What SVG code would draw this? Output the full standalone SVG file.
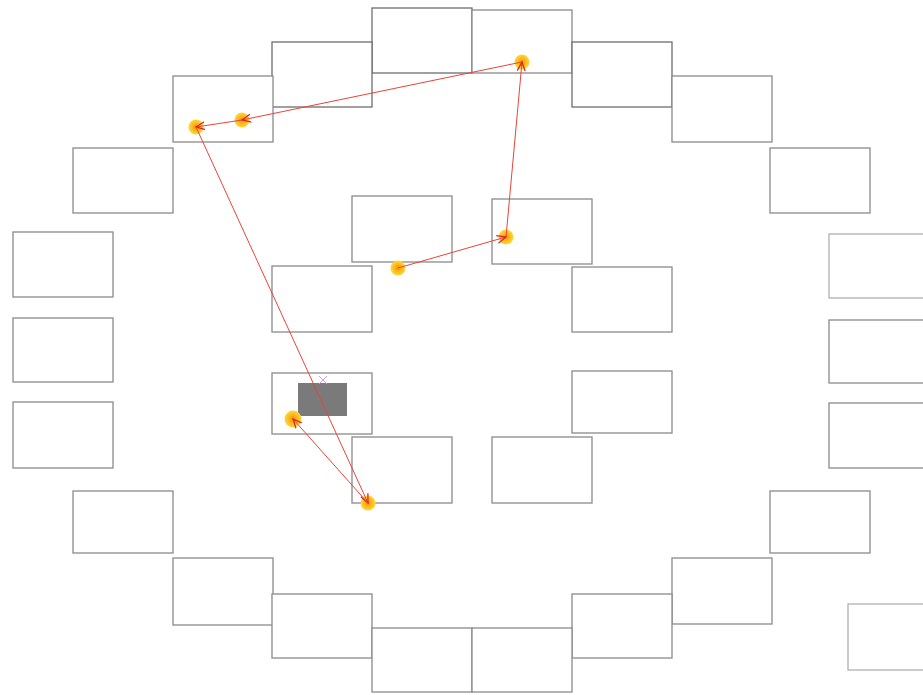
<svg xmlns="http://www.w3.org/2000/svg" width="923" height="695" viewBox="0 0 923 695">
<style>
.box{fill:#fff;stroke:#8a8a8a;stroke-width:1.3}
.dk{stroke:#6e6e6e}
.lt{stroke:#b0b0b0}
.edge{stroke:#e8443a;stroke-width:1;fill:none;marker-end:url(#arr)}
.dot{fill:url(#g)}
</style>
<defs>
<radialGradient id="g"><stop offset="0" stop-color="#f68a10"/><stop offset="0.45" stop-color="#fbb615"/><stop offset="1" stop-color="#ffd83a"/></radialGradient>
<marker id="arr" viewBox="0 0 10 10" refX="9" refY="5" markerWidth="10" markerHeight="10" orient="auto" markerUnits="userSpaceOnUse">
<path d="M0,1 L9,5 L0,9" fill="none" stroke="#d42a2a" stroke-width="1.3"/>
</marker>
</defs>
<rect width="923" height="695" fill="#fff"/>
<g id="nodes">
<g id="n1"><rect class="box dk" x="372" y="8" width="100" height="65"/></g>
<g id="n2"><rect class="box" x="472" y="10" width="100" height="63"/></g>
<g id="n3"><rect class="box dk" x="272" y="42" width="100" height="65"/></g>
<g id="n4"><rect class="box dk" x="572" y="42" width="100" height="65"/></g>
<g id="n5"><rect class="box" x="173" y="76" width="100" height="66"/></g>
<g id="n6"><rect class="box" x="672" y="76" width="100" height="66"/></g>
<g id="n7"><rect class="box" x="73" y="148" width="100" height="65"/></g>
<g id="n8"><rect class="box" x="770" y="148" width="100" height="65"/></g>
<g id="n9"><rect class="box" x="13" y="232" width="100" height="65"/></g>
<g id="n10"><rect class="box" x="13" y="318" width="100" height="64"/></g>
<g id="n11"><rect class="box" x="13" y="402" width="100" height="66"/></g>
<g id="n12"><rect class="box lt" x="829" y="234" width="100" height="64"/></g>
<g id="n13"><rect class="box" x="829" y="320" width="100" height="63"/></g>
<g id="n14"><rect class="box" x="829" y="403" width="100" height="65"/></g>
<g id="n15"><rect class="box" x="73" y="491" width="100" height="62"/></g>
<g id="n16"><rect class="box" x="770" y="491" width="100" height="62"/></g>
<g id="n17"><rect class="box" x="173" y="558" width="100" height="67"/></g>
<g id="n18"><rect class="box" x="672" y="558" width="100" height="66"/></g>
<g id="n19"><rect class="box" x="272" y="594" width="100" height="64"/></g>
<g id="n20"><rect class="box" x="572" y="594" width="100" height="64"/></g>
<g id="n21"><rect class="box" x="372" y="628" width="100" height="64"/></g>
<g id="n22"><rect class="box" x="472" y="628" width="100" height="64"/></g>
<g id="n23"><rect class="box lt" x="848" y="604" width="100" height="66"/></g>
<g id="n24"><rect class="box" x="352" y="196" width="100" height="66"/></g>
<g id="n25"><rect class="box" x="492" y="199" width="100" height="65"/></g>
<g id="n26"><rect class="box" x="272" y="266" width="100" height="66"/></g>
<g id="n27"><rect class="box" x="572" y="267" width="100" height="65"/></g>
<g id="n28"><rect class="box" x="272" y="373" width="100" height="61"/><rect x="298" y="383" width="49" height="33" fill="#7a7a7a"/></g>
<g id="n29"><rect class="box" x="572" y="371" width="100" height="62"/></g>
<g id="n30"><rect class="box" x="352" y="437" width="100" height="66"/></g>
<g id="n31"><rect class="box" x="492" y="437" width="100" height="66"/></g>
</g>
<g id="dots">
<circle class="dot" cx="398" cy="268" r="7.5"/>
<circle class="dot" cx="506" cy="237" r="7.5"/>
<circle class="dot" cx="522" cy="62" r="7.5"/>
<circle class="dot" cx="242" cy="120" r="7.5"/>
<circle class="dot" cx="196" cy="127" r="7.5"/>
<circle class="dot" cx="368" cy="503" r="7.5"/>
<circle class="dot" cx="293" cy="419" r="8.5"/>
</g>
<g id="connectors">
<line class="edge" x1="398" y1="268" x2="506" y2="237"/>
<line class="edge" x1="506" y1="237" x2="522" y2="62"/>
<line class="edge" x1="522" y1="62" x2="242" y2="120"/>
<line class="edge" x1="242" y1="120" x2="196" y2="127"/>
<line class="edge" x1="196" y1="127" x2="368" y2="503"/>
<line class="edge" x1="368" y1="503" x2="293" y2="419"/>
<path d="M319,376 L327,384 M327,376 L319,384" stroke="#c9a0e0" stroke-width="1"/>
</g>
</svg>
